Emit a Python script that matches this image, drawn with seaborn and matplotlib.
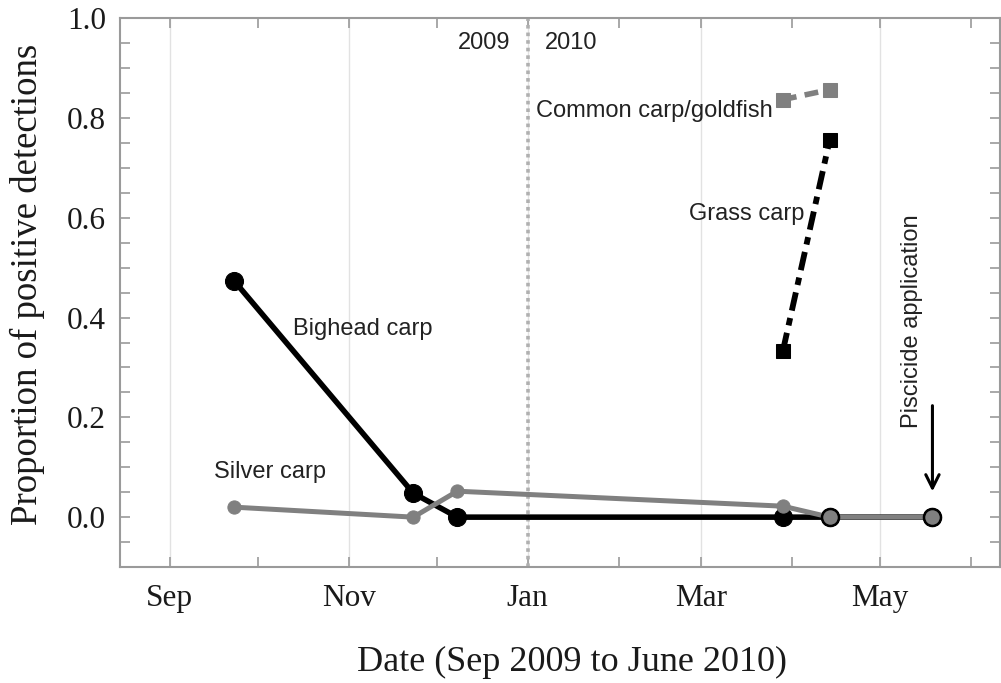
import matplotlib
matplotlib.use("Agg")
import matplotlib.pyplot as plt
import matplotlib.dates as mdates
from matplotlib.ticker import MultipleLocator, FormatStrFormatter
import pandas as pd
import seaborn as sns

# sampling dates and proportions
bighead_dates = ["2009-09-23", "2009-11-23", "2009-12-08", "2010-03-29", "2010-04-14", "2010-05-19"]
bighead_vals = [0.473, 0.048, 0.0, 0.0, 0.0, 0.0]

silver_dates = ["2009-09-23", "2009-11-23", "2009-12-08", "2010-03-29", "2010-04-14", "2010-05-19"]
silver_vals = [0.020, 0.0, 0.052, 0.022, 0.0, 0.0]

grass_dates = ["2010-03-29", "2010-04-14"]
grass_vals = [0.333, 0.757]

common_dates = ["2010-03-29", "2010-04-14"]
common_vals = [0.837, 0.857]

year_break = "2010-01-01"
piscicide_date = "2010-05-19"

sns.set_theme(style="white")
plt.rcParams["font.family"] = ["Liberation Sans", "DejaVu Sans"]

bighead = pd.DataFrame({"date": pd.to_datetime(bighead_dates), "prop": bighead_vals})
silver = pd.DataFrame({"date": pd.to_datetime(silver_dates), "prop": silver_vals})
grass = pd.DataFrame({"date": pd.to_datetime(grass_dates), "prop": grass_vals})
common = pd.DataFrame({"date": pd.to_datetime(common_dates), "prop": common_vals})

fig = plt.figure(figsize=(10.01, 6.83), dpi=100)
ax = fig.add_axes([0.1199, 0.1698, 0.879, 0.8034])

gray = "#808080"

# year divider
ax.axvline(pd.Timestamp(year_break), color="#b0b0b0", lw=2.6, ls=(0, (1, 1.1)), zorder=1)

sns.lineplot(data=bighead, x="date", y="prop", ax=ax, color="black", lw=4,
             marker="o", markersize=13, markeredgecolor="black", zorder=3)
sns.lineplot(data=silver, x="date", y="prop", ax=ax, color=gray, lw=3.6,
             marker="o", markersize=9.5, markeredgecolor=gray, zorder=4)
# overlapping final samples drawn with outlined markers
sns.scatterplot(x=silver["date"].iloc[-2:], y=silver["prop"].iloc[-2:], ax=ax,
                s=150, color=gray, edgecolor="black", linewidth=1.8, zorder=5)
sns.lineplot(data=grass, x="date", y="prop", ax=ax, color="black", lw=4.2,
             ls=(0, (3.2, 1.3, 1.3, 1.3)), marker="s", markersize=10,
             markeredgecolor="black", zorder=3)
sns.lineplot(data=common, x="date", y="prop", ax=ax, color=gray, lw=4,
             ls=(0, (2.5, 1.5)), marker="s", markersize=10.5,
             markeredgecolor=gray, zorder=3)

ax.set_xlim(pd.Timestamp("2009-08-15"), pd.Timestamp("2010-06-11"))
ax.set_ylim(-0.1, 1.0)

ax.xaxis.set_major_locator(mdates.MonthLocator(bymonth=[9, 11, 1, 3, 5]))
ax.xaxis.set_major_formatter(mdates.DateFormatter("%b"))
ax.xaxis.set_minor_locator(mdates.MonthLocator(bymonth=[10, 12, 2, 4, 6]))
ax.yaxis.set_major_locator(MultipleLocator(0.2))
ax.yaxis.set_major_formatter(FormatStrFormatter("%.1f"))
ax.yaxis.set_minor_locator(MultipleLocator(0.05))

ax.grid(True, axis="x", which="major", color="#e2e2e2", lw=1)
ax.grid(False, axis="y")

for sp in ax.spines.values():
    sp.set_color("#9a9a9a")
    sp.set_linewidth(1.5)

ax.tick_params(which="both", direction="in", top=True, right=True, bottom=True, left=True,
               length=7, width=1.2, color="#9a9a9a")
ax.tick_params(axis="x", which="major", pad=12)
ax.tick_params(axis="y", which="major", pad=10)
for lab in ax.get_xticklabels() + ax.get_yticklabels():
    lab.set_fontfamily("Liberation Serif")
    lab.set_fontsize(22.5)
    lab.set_color("#1a1a1a")

ax.set_xlabel("Date (Sep 2009 to June 2010)", fontfamily="Liberation Serif",
              fontsize=26, labelpad=24, color="#1a1a1a")
ax.set_ylabel("Proportion of positive detections", fontfamily="Liberation Serif",
              fontsize=26.5, labelpad=16, color="#1a1a1a")
ax.xaxis.label.set_x(0.514)
ax.yaxis.label.set_y(0.515)

tk = dict(fontsize=17, color="#222222")
ax.text(pd.Timestamp("2009-10-13"), 0.377, "Bighead carp", ha="left", va="center", **tk)
ax.text(pd.Timestamp("2009-09-16"), 0.090, "Silver carp", ha="left", va="center", **tk)
ax.text(pd.Timestamp("2010-01-04"), 0.815, "Common carp/goldfish", ha="left", va="center", **tk)
ax.text(pd.Timestamp("2010-02-25"), 0.607, "Grass carp", ha="left", va="center", **tk)
ax.text(pd.Timestamp("2009-12-26"), 0.951, "2009", ha="right", va="center", **tk)
ax.text(pd.Timestamp("2010-01-07"), 0.951, "2010", ha="left", va="center", **tk)
ax.text(pd.Timestamp("2010-05-12"), 0.178, "Piscicide application", rotation=90,
        ha="center", va="bottom", **tk)
ax.annotate("", xy=(pd.Timestamp(piscicide_date), 0.046),
            xytext=(pd.Timestamp(piscicide_date), 0.229),
            arrowprops=dict(arrowstyle="->", color="black", lw=2.2, mutation_scale=24))

fig.savefig("out.png", dpi=100)
